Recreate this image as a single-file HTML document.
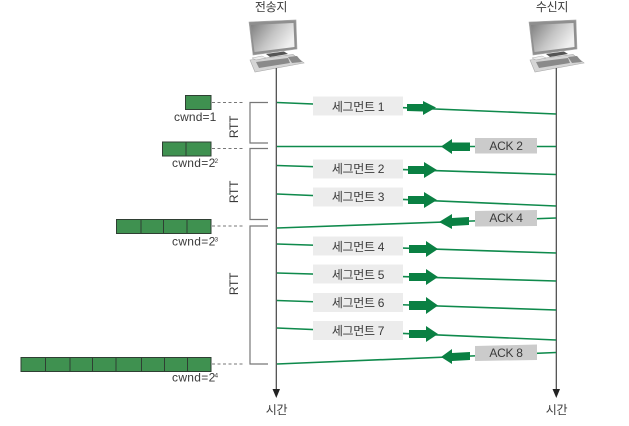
<!DOCTYPE html>
<html lang="ko">
<head>
<meta charset="utf-8">
<style>
html,body{margin:0;padding:0;background:#fff;width:629px;height:426px;overflow:hidden}
svg{display:block;filter:blur(0.35px)}
text{font-family:"Liberation Sans","Noto Sans CJK KR",sans-serif;fill:#3a3a3a;font-size:12px;letter-spacing:-0.3px}
.l{stroke:#0f8a4c;stroke-width:1.6;fill:none}
.a{fill:#0a8043}
.s{fill:#ececec}
.k{fill:#cbcbcb}
.c{fill:#3f9150;stroke:#2f3f33;stroke-width:1}
.d{stroke:#2f3f33;stroke-width:1}
.b{stroke:#777;stroke-width:1.2;fill:none}
.da{stroke:#777;stroke-width:1;stroke-dasharray:3 2.5}
</style>
</head>
<body>
<svg width="629" height="426" viewBox="0 0 629 426" xmlns="http://www.w3.org/2000/svg">
<defs>
<linearGradient id="g" x1="0" y1="0" x2="1" y2="0.5">
<stop offset="0" stop-color="#7d7d7d"/><stop offset="0.55" stop-color="#c4c4c4"/><stop offset="1" stop-color="#f0f0f0"/>
</linearGradient>
<g id="pc">
<polygon points="249,22 296,20 297,49 253,55" fill="#8f8f8f" stroke="#aaa" stroke-width="0.6"/>
<polygon points="251,25 293.500,23 294.500,47 254.500,52" fill="url(#g)"/>
<polygon points="266,54 284,51.500 288,54 270,57" fill="#555"/>
<polygon points="250,60 293,54.500 304,63 255,72" fill="#d5d5d5" stroke="#aaa" stroke-width="0.6"/>
<polygon points="256,62 288,58 290,63 259,68" fill="#8a8a8a"/>
<polygon points="288,57 297,56 302,62 292,63" fill="#8a8a8a"/>
<polygon points="252,58 262,56 266,58 256,60" fill="#eee" stroke="#999" stroke-width="0.4"/>
</g>
</defs>

<text x="271" y="11" text-anchor="middle">전송지</text>
<text x="552" y="11" text-anchor="middle">수신지</text>
<use href="#pc"/>
<use href="#pc" x="280"/>

<line x1="276.300" y1="68" x2="276.300" y2="390" stroke="#444" stroke-width="1.2"/>
<polygon points="272.500,389 280,389 276.300,398" fill="#222"/>
<line x1="556.300" y1="68" x2="556.300" y2="390" stroke="#444" stroke-width="1.2"/>
<polygon points="552.500,389 560,389 556.300,398" fill="#222"/>
<text x="276.500" y="414" text-anchor="middle">시간</text>
<text x="556.500" y="414" text-anchor="middle">시간</text>

<!-- cwnd boxes -->
<rect class="c" x="185.500" y="95.500" width="25.500" height="14"/>
<rect class="c" x="162.500" y="142" width="48.500" height="14"/>
<line class="d" x1="186" y1="142" x2="186" y2="156"/>
<rect class="c" x="116.500" y="219.500" width="94.500" height="14"/>
<line class="d" x1="141" y1="219.500" x2="141" y2="233.500"/>
<line class="d" x1="163.500" y1="219.500" x2="163.500" y2="233.500"/>
<line class="d" x1="187" y1="219.500" x2="187" y2="233.500"/>
<rect class="c" x="21" y="357.500" width="190" height="14"/>
<line class="d" x1="45.500" y1="357.500" x2="45.500" y2="371.500"/>
<line class="d" x1="70" y1="357.500" x2="70" y2="371.500"/>
<line class="d" x1="92.500" y1="357.500" x2="92.500" y2="371.500"/>
<line class="d" x1="116" y1="357.500" x2="116" y2="371.500"/>
<line class="d" x1="141.500" y1="357.500" x2="141.500" y2="371.500"/>
<line class="d" x1="164.500" y1="357.500" x2="164.500" y2="371.500"/>
<line class="d" x1="187.500" y1="357.500" x2="187.500" y2="371.500"/>

<line class="da" x1="212" y1="102.500" x2="245" y2="102.500"/>
<line class="da" x1="212" y1="148.500" x2="245" y2="148.500"/>
<line class="da" x1="212" y1="226" x2="245" y2="226"/>
<line class="da" x1="212" y1="364" x2="245" y2="364"/>

<path class="b" d="M268 102.500H250V143H268"/>
<path class="b" d="M268 148.500H250V219.500H268"/>
<path class="b" d="M268 226H250V364H268"/>

<text x="174" y="121" textLength="42">cwnd=1</text>
<text x="172" y="167" textLength="43">cwnd=2</text><text x="214.500" y="163" style="font-size:6.500px">2</text>
<text x="172" y="245.500" textLength="43">cwnd=2</text><text x="214.500" y="241.500" style="font-size:6.500px">3</text>
<text x="172" y="381.500" textLength="43">cwnd=2</text><text x="214.500" y="377.500" style="font-size:6.500px">4</text>

<text transform="translate(238,127) rotate(-90)" text-anchor="middle">RTT</text>
<text transform="translate(238,192) rotate(-90)" text-anchor="middle">RTT</text>
<text transform="translate(238,284) rotate(-90)" text-anchor="middle">RTT</text>

<!-- green lines -->
<line class="l" x1="277" y1="102.500" x2="556" y2="114"/>
<line class="l" x1="277" y1="146.500" x2="556" y2="146.500"/>
<line class="l" x1="277" y1="165.500" x2="556" y2="174.500"/>
<line class="l" x1="277" y1="194" x2="556" y2="206"/>
<line class="l" x1="277" y1="228" x2="556" y2="218"/>
<line class="l" x1="277" y1="244" x2="556" y2="253"/>
<line class="l" x1="277" y1="273" x2="556" y2="281"/>
<line class="l" x1="277" y1="300.500" x2="556" y2="310"/>
<line class="l" x1="277" y1="328" x2="556" y2="340"/>
<line class="l" x1="277" y1="364" x2="556" y2="352.500"/>

<!-- label boxes -->
<rect class="s" x="313" y="96.500" width="90" height="19"/>
<rect class="s" x="313" y="159.500" width="90" height="19"/>
<rect class="s" x="313" y="187.500" width="90" height="19"/>
<rect class="s" x="313" y="236.500" width="90" height="19"/>
<rect class="s" x="313" y="264.500" width="90" height="19"/>
<rect class="s" x="313" y="293" width="90" height="19"/>
<rect class="s" x="313" y="321" width="90" height="19"/>
<rect class="k" x="475" y="138" width="62" height="15.500"/>
<polygon class="k" points="475,211 537,210 537,226 475,226.500"/>
<polygon class="k" points="475,346 537,344.500 537,360 475,361"/>

<!-- right arrows -->
<g class="a">
<polygon points="407,104 423,104 423,101 436,107.500 423,115 423,111.500 407,111"/>
<polygon points="408,166 424,166 424,162 437,170 424,178 424,174 408,174"/>
<polygon points="408,196 424,196 424,192 437,200 424,208 424,204 408,204"/>
<polygon points="409,245 426,245 426,241 438,249 426,257 426,253 409,253"/>
<polygon points="409,273 426,273 426,269 438,277 426,285 426,281 409,281"/>
<polygon points="409,301 426,301 426,297 438,305.500 426,314 426,310 409,310"/>
<polygon points="409,330 426,330 426,326 438,334 426,342 426,338 409,338"/>
<!-- left arrows -->
<polygon points="470,142.500 452,142.500 452,139 441,146.500 452,154 452,151 470,151"/>
<polygon points="469,217 452,218 452,214 439,222 452,229 452,226 469,225"/>
<polygon points="470,352 452,353 452,349 441,357 452,364 452,361 470,360"/>
</g>

<!-- labels -->
<text x="358" y="111" text-anchor="middle">세그먼트 1</text>
<text x="358" y="173" text-anchor="middle">세그먼트 2</text>
<text x="358" y="201" text-anchor="middle">세그먼트 3</text>
<text x="358" y="251" text-anchor="middle">세그먼트 4</text>
<text x="358" y="279" text-anchor="middle">세그먼트 5</text>
<text x="358" y="307" text-anchor="middle">세그먼트 6</text>
<text x="358" y="335" text-anchor="middle">세그먼트 7</text>
<text x="506" y="150" text-anchor="middle">ACK 2</text>
<text x="506" y="222" text-anchor="middle">ACK 4</text>
<text x="506" y="357" text-anchor="middle">ACK 8</text>
</svg>
</body>
</html>
